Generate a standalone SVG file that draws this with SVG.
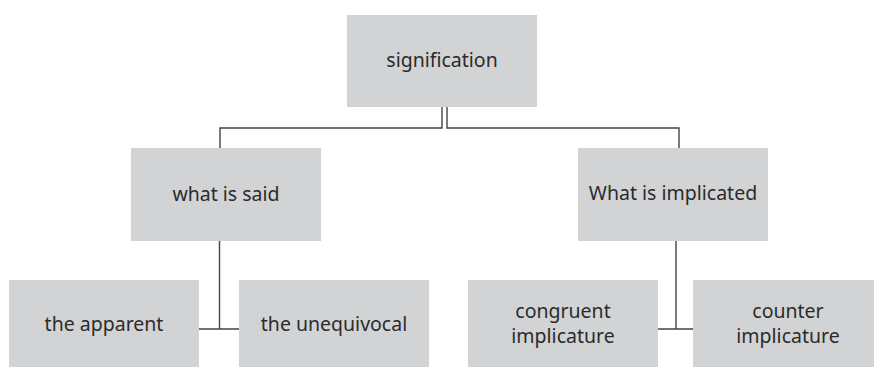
<svg xmlns="http://www.w3.org/2000/svg" width="874" height="367" viewBox="0 0 874 367">
<style>
.box{fill:#d2d3d5}
.t{font-family:"Noto Sans","Open Sans",sans-serif;font-size:19.5px;fill:#2b2b2b;text-anchor:middle}
.c{fill:none;stroke:#444;stroke-width:1.4}
</style>
<rect width="874" height="367" fill="#fff"/>
<g id="connectors">
<path class="c" d="M442 107V128H220V148"/>
<path class="c" d="M447 107V128H679V148"/>
<path class="c" d="M219.5 241V329M199 329H239"/>
<path class="c" d="M676 241V329M658 329H693"/>
</g>
<g id="signification"><rect class="box" x="347" y="15" width="190" height="92"/><text class="t" x="442" y="67">signification</text></g>
<g id="what-is-said"><rect class="box" x="131" y="148" width="190" height="93"/><text class="t" x="226" y="201">what is said</text></g>
<g id="what-is-implicated"><rect class="box" x="578" y="148" width="190" height="93"/><text class="t" x="673" y="200">What is implicated</text></g>
<g id="the-apparent"><rect class="box" x="9" y="280" width="190" height="87"/><text class="t" x="104" y="331">the apparent</text></g>
<g id="the-unequivocal"><rect class="box" x="239" y="280" width="190" height="87"/><text class="t" x="334" y="331">the unequivocal</text></g>
<g id="congruent-implicature"><rect class="box" x="468" y="280" width="190" height="87"/><text class="t" x="563" y="318">congruent</text><text class="t" x="563" y="343">implicature</text></g>
<g id="counter-implicature"><rect class="box" x="693" y="280" width="190" height="87"/><text class="t" x="788" y="318">counter</text><text class="t" x="788" y="343">implicature</text></g>
</svg>
